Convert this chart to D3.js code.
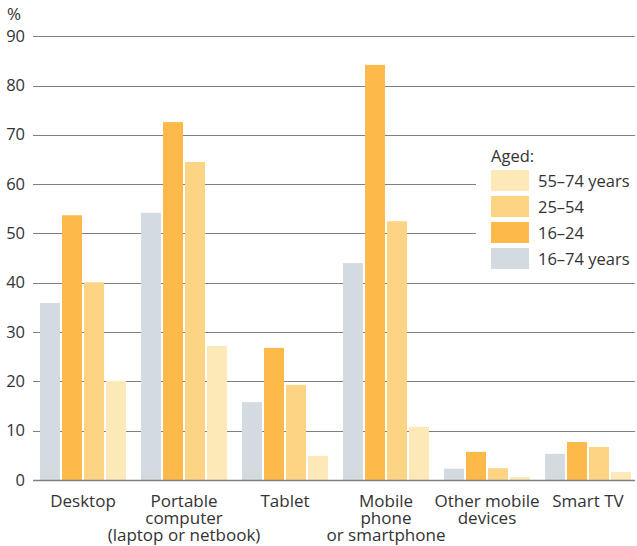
<!DOCTYPE html>
<html><head><meta charset="utf-8">
<script src="https://cdn.jsdelivr.net/npm/d3@7"></script>
<style>body{margin:0;background:#fff}svg{display:block}text{font-family:"Open Sans",sans-serif;fill:#333}</style>
</head><body><svg id="c" width="637" height="546"></svg>
<script>
const categories = [["Desktop"],["Portable","computer","(laptop or netbook)"],["Tablet"],["Mobile","phone","or smartphone"],["Other mobile","devices"],["Smart TV"]];
const seriesNames = ["16–74 years","16–24","25–54","55–74 years"];
const all16_74 = [35.9, 54.2, 15.8, 44.0, 2.3, 5.3];
const age16_24 = [53.7, 72.6, 26.8, 84.2, 5.7, 7.7];
const age25_54 = [40.1, 64.5, 19.3, 52.5, 2.4, 6.7];
const age55_74 = [20.1, 27.2, 4.9, 10.8, 0.6, 1.6];
const yTicks = [0,10,20,30,40,50,60,70,80,90];
const colors = ["#d3dae0","#fdb94a","#fdd484","#fde8b8"];
const legendOrder = [3,2,1,0];

const series = [all16_74, age16_24, age25_54, age55_74];
const svg = d3.select("#c");
const y = d3.scaleLinear().domain([0,90]).range([480,36.3]);
const x0 = d3.scaleBand().domain(d3.range(categories.length)).range([32.5,638.5]).paddingInner(0.1485).paddingOuter(0.0743);
const x1 = d3.scaleBand().domain(d3.range(series.length)).range([0,x0.bandwidth()]).paddingInner(0.09);

// gridlines
svg.append("g").selectAll("line").data(yTicks).join("line")
  .attr("x1",33).attr("x2",635).attr("y1",d=>Math.round(y(d))+0.5).attr("y2",d=>Math.round(y(d))+0.5)
  .attr("stroke","#808080").attr("stroke-width",1.2);
svg.append("g").selectAll("text").data(yTicks).join("text")
  .attr("x",25).attr("y",d=>y(d)+5.5).attr("text-anchor","end").attr("font-size",16.5).text(d=>d);
svg.append("text").attr("x",7).attr("y",20).attr("font-size",17).text("%");

// legend background
svg.append("rect").attr("x",476).attr("y",140).attr("width",161).attr("height",135).attr("fill","#fff");

// bars
const g = svg.append("g");
categories.forEach((c,i)=>{
  series.forEach((s,j)=>{
    g.append("rect").attr("x",x0(i)+x1(j)).attr("width",x1.bandwidth())
      .attr("y",y(s[i])).attr("height",y(0)-y(s[i])).attr("fill",colors[j]);
  });
});
// zero line redraw
svg.append("line").attr("x1",33).attr("x2",635).attr("y1",480.5).attr("y2",480.5).attr("stroke","#808080").attr("stroke-width",1.5);

// category labels
categories.forEach((c,i)=>{
  const t = svg.append("text").attr("text-anchor","middle").attr("font-size",17);
  c.forEach((line,k)=>{
    t.append("tspan").attr("x",x0(i)+x0.bandwidth()/2).attr("y",506.7+k*17.3).text(line);
  });
});

// legend
svg.append("text").attr("x",491).attr("y",162.4).attr("font-size",16.5).text("Aged:");
legendOrder.forEach((j,k)=>{
  svg.append("rect").attr("x",491).attr("y",170+k*26).attr("width",38).attr("height",21).attr("fill",colors[j]);
  svg.append("text").attr("x",538).attr("y",186.7+k*26).attr("font-size",16.5).text(seriesNames[j]);
});
</script></body></html>
